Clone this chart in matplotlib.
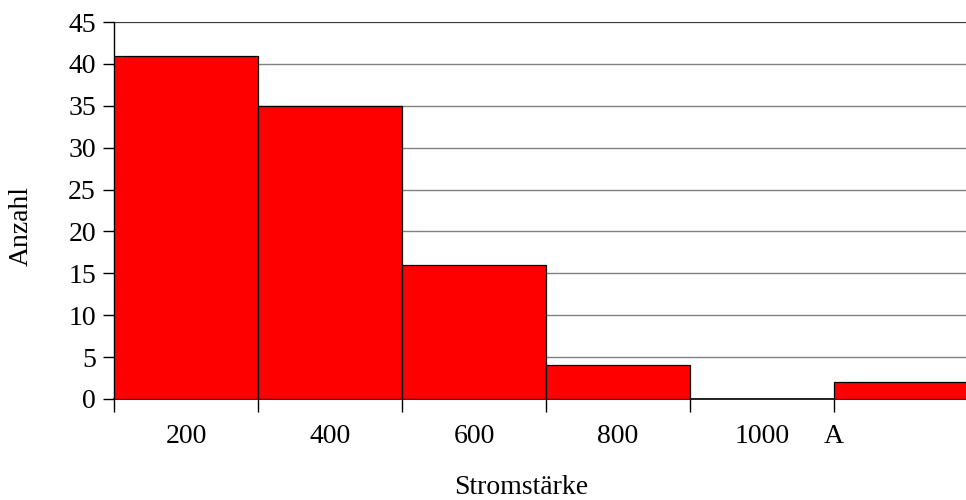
import matplotlib
matplotlib.use("Agg")
import matplotlib.pyplot as plt
import numpy as np

# Histogram of current strength (Stromstärke), counts per class
categories = ["200", "400", "600", "800", "1000", ""]
counts = [41, 35, 16, 4, 0, 2]
boundary_labels = ["", "", "", "", "", "A"]
y_ticks = list(range(0, 50, 5))

plt.rcParams["font.family"] = ["Liberation Serif", "DejaVu Serif"]
FS = 20

fig = plt.figure(figsize=(9.66, 5.0), dpi=100)
ax = fig.add_axes([114 / 966, 101 / 500, 864 / 966, 377 / 500])

x = np.arange(len(counts))
ax.bar(x, counts, width=1.0, color="#ff0000", edgecolor="#000000",
       linewidth=0.9, zorder=3)

ax.set_xlim(-0.5, len(counts) - 0.5)
ax.set_ylim(0, 45)
ax.set_yticks(y_ticks)
ax.yaxis.grid(True, color="#808080", linewidth=1.0, zorder=0)

# boundaries carry the tick marks, centres carry the class labels
ax.set_xticks(x - 0.5)
ax.set_xticklabels(boundary_labels)
ax.set_xticks(x, minor=True)
ax.set_xticklabels(categories, minor=True)
ax.tick_params(axis="x", which="major", direction="out", length=9,
               width=1.0, pad=9, labelsize=FS)
ax.tick_params(axis="x", which="minor", length=0, pad=18, labelsize=FS)
ax.tick_params(axis="y", direction="out", length=8, width=1.0, pad=5,
               labelsize=FS)

for side in ["top", "right"]:
    ax.spines[side].set_visible(False)
ax.spines["left"].set_linewidth(1.0)
ax.spines["bottom"].set_linewidth(1.2)
ax.axhline(45, color="#333333", linewidth=1.4, zorder=2)

ax.set_xlabel("Stromstärke", fontsize=FS, va="center")
ax.xaxis.set_label_coords((521 - 114) / 864, -(487 - 399) / 377)
ax.set_ylabel("Anzahl", fontsize=FS, va="center")
ax.yaxis.set_label_coords(-(114 - 21) / 864, 1 - (226 - 22) / 377)

fig.savefig("out.png", dpi=100)
